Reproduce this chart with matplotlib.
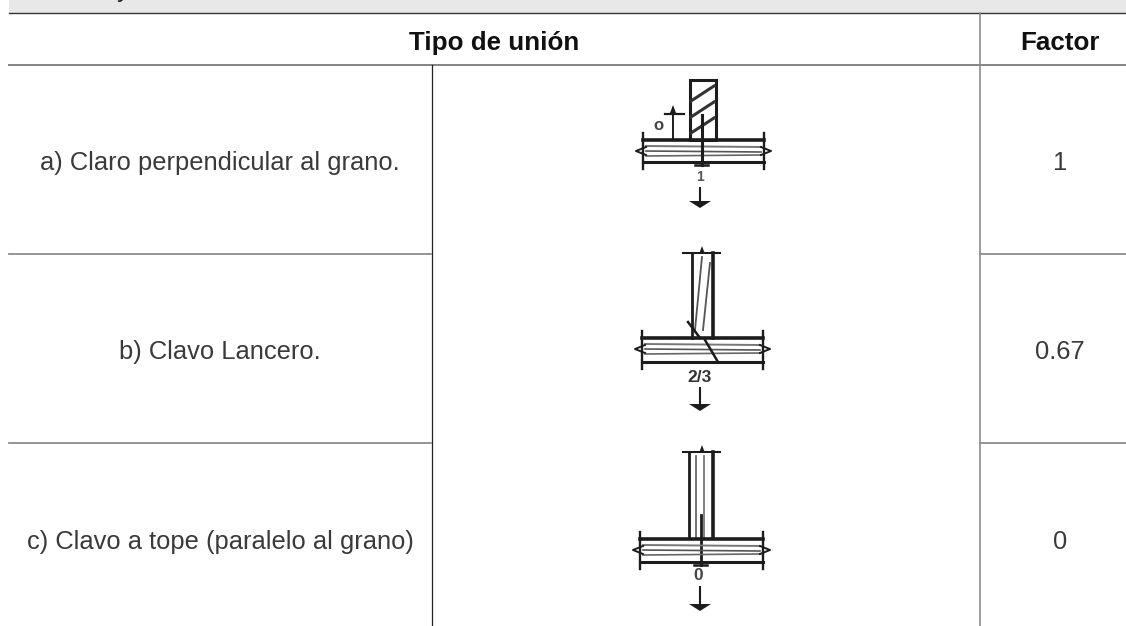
import matplotlib
matplotlib.use("Agg")
import matplotlib.pyplot as plt
from matplotlib.patches import Rectangle

W, H = 1126, 626

plt.rcParams['font.family'] = ['Liberation Sans', 'DejaVu Sans']

# textos de la tabla
header_union = "Tipo de unión"
header_factor = "Factor"
row_labels = [
    "a) Claro perpendicular al grano.",
    "b) Clavo Lancero.",
    "c) Clavo a tope (paralelo al grano)",
]
row_factors = ["1", "0.67", "0"]

# lineas base de cada fila, en pixeles
row_baselines = [170, 359, 549]
row_lines = [254, 443]

# croquis de cada union, en pixeles de la imagen
plate_a = (643, 764, 140, 162)
plate_b = (642, 763, 338, 362)
plate_c = (640, 763, 539, 562)
post_b = (692, 713, 253, 338)
post_c = (689, 713, 452, 538)

fig = plt.figure(figsize=(W / 100, H / 100), dpi=100, facecolor="white")
ax = fig.add_axes([0, 0, 1, 1])
ax.set_xlim(0, W)
ax.set_ylim(H, 0)
ax.axis("off")

# banda superior y reticula
ax.add_patch(Rectangle((9, 0), W - 9, 13, fc="#e8e8e8", ec="none"))
ax.text(117, -3, "y", ha="left", va="baseline", fontsize=18.3, color="#222222")
ax.plot([9, W], [13, 13], color="#333333", lw=1.0)
ax.plot([9, W], [64.5, 64.5], color="#858585", lw=1.4)
ax.plot([431.5, 431.5], [65, H], color="#222222", lw=0.9)
ax.plot([980, 980], [13, H], color="#8c8c8c", lw=1.2)
for y in row_lines:
    ax.plot([9, 431], [y, y], color="#8c8c8c", lw=1.3)
    ax.plot([980, W], [y, y], color="#8c8c8c", lw=1.3)

ax.text(494, 50, header_union, ha="center", va="baseline", fontsize=18.7, fontweight="bold", color="#111111")
ax.text(1060, 50, header_factor, ha="center", va="baseline", fontsize=18.7, fontweight="bold", color="#111111")
for label, factor, y in zip(row_labels, row_factors, row_baselines):
    ax.text(220, y, label, ha="center", va="baseline", fontsize=18.4, color="#3a3a3a")
    ax.text(1060, y, factor, ha="center", va="baseline", fontsize=18.4, color="#3a3a3a")

ink = "#1c1c1c"


def draw_plate(x0, x1, y0, y1):
    """Viga horizontal con sus cortes a los lados."""
    ax.plot([x0, x1], [y0, y0], color=ink, lw=2.6)
    ax.plot([x0, x1], [y1, y1], color=ink, lw=2.2)
    ax.plot([x0 + 3, x1 - 3], [y0 + 6, y0 + 7], color="#777777", lw=1.4)
    ax.plot([x0 + 3, x1 - 3], [y0 + 11, y0 + 12], color="#555555", lw=1.2)
    ax.plot([x0 + 3, x1 - 3], [y0 + 16, y0 + 15], color="#666666", lw=1.2)
    for x in (x0, x1):
        ax.plot([x, x], [y0 - 7, y1 + 7], color=ink, lw=1.7)
    ax.plot([x0 + 3, x0 - 7, x0 + 3], [y0 + 7, y0 + 11, y0 + 15], color=ink, lw=1.4)
    ax.plot([x1 - 3, x1 + 7, x1 - 3], [y0 + 7, y0 + 11, y0 + 15], color=ink, lw=1.4)


def draw_arrow(x, y0, y1):
    ax.plot([x, x], [y0, y1], color=ink, lw=1.5)
    ax.fill([x - 11, x + 11, x], [y1, y1, y1 + 7], color=ink, lw=0)


def draw_post(x0, x1, y0, y1):
    ax.plot([x0, x0], [y0, y1], color=ink, lw=2.0)
    ax.plot([x1, x1], [y0, y1], color=ink, lw=2.6)
    ax.plot([683, 720], [y0, y0], color=ink, lw=1.5)
    ax.fill([699, 705, 702], [y0 + 1, y0 + 1, y0 - 7], color=ink, lw=0)


# a) tablon visto de frente con achurado
ax.add_patch(Rectangle((689.5, 80), 26, 60, fc="white", ec=ink, lw=2.2))
for offs in (0, 16, 32):
    ax.plot([691, 714], [101 + offs, 86 + offs], color="#333333", lw=2.2)
draw_plate(*plate_a)
ax.plot([702, 702], [115, 165], color=ink, lw=2.2)
ax.plot([695, 708], [165, 165], color=ink, lw=1.8)
ax.plot([673, 673], [108, 140], color=ink, lw=1.4)
ax.plot([665, 684], [114, 114], color=ink, lw=1.6)
ax.fill([670, 676, 673], [113, 113, 105], color=ink, lw=0)
ax.text(658, 125, "o", ha="center", va="center", fontsize=12, color="#444444", fontweight="bold")
ax.text(700, 177, "1", ha="center", va="center", fontsize=10, color="#555555", fontweight="bold")
draw_arrow(700, 188, 201)

# b) clavo lancero
draw_post(*post_b)
ax.plot([702, 695], [257, 330], color="#555555", lw=1.3)
ax.plot([710, 703], [263, 330], color="#555555", lw=1.3)
draw_plate(*plate_b)
ax.plot([688, 700], [322, 338], color=ink, lw=1.8)
ax.plot([705, 718], [340, 362], color=ink, lw=1.8)
ax.text(700, 378, "2/3", ha="center", va="center", fontsize=12.5, color="#333333", fontweight="bold")
draw_arrow(700, 388, 404)

# c) clavo a tope
draw_post(*post_c)
ax.plot([696, 696], [456, 538], color="#666666", lw=1.3)
ax.plot([704, 704], [456, 538], color="#777777", lw=1.3)
ax.plot([701, 701], [515, 565], color=ink, lw=2.0)
draw_plate(*plate_c)
ax.plot([694, 707], [565, 565], color=ink, lw=1.8)
ax.text(698, 576, "0", ha="center", va="center", fontsize=12.5, color="#444444", fontweight="bold")
draw_arrow(700, 587, 604)

fig.savefig("out.png", dpi=100, facecolor="white")
